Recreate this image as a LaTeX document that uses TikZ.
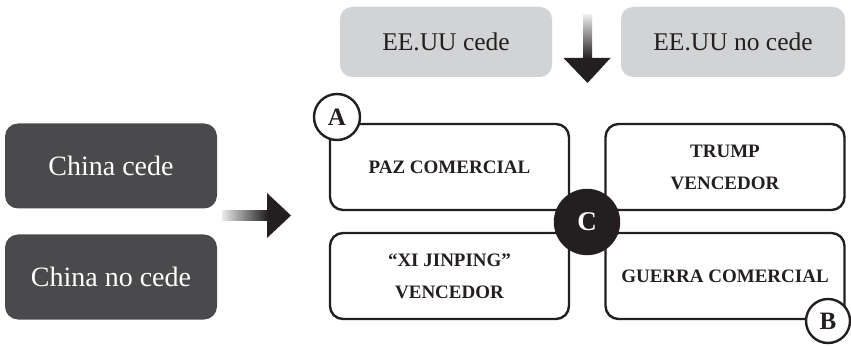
\documentclass[tikz,border=0pt]{standalone}
\usepackage{fontspec}
\setmainfont{Liberation Serif}
\usetikzlibrary{positioning}
\definecolor{usgray}{HTML}{D1D3D4}
\definecolor{cndark}{HTML}{4A4A4C}
\definecolor{inkdark}{HTML}{231F20}
\tikzset{
  usbox/.style={rectangle,rounded corners=12pt,fill=usgray,text=inkdark,
    minimum height=70pt,font=\fontsize{25.5}{28}\selectfont},
  cnbox/.style={rectangle,rounded corners=13pt,fill=cndark,text=white,
    minimum width=212pt,minimum height=85pt,font=\fontsize{28}{30}\selectfont},
  quad/.style={rectangle,draw=inkdark,line width=2.4pt,rounded corners=13pt,fill=white,
    text=inkdark,minimum width=239pt,minimum height=86pt,align=center,
    font=\fontsize{19}{32}\selectfont\bfseries},
  tag/.style={circle,draw=inkdark,line width=2.4pt,fill=white,text=inkdark,
    minimum size=46pt,inner sep=0pt,font=\fontsize{25}{28}\selectfont\bfseries}
}
\begin{document}
\begin{tikzpicture}[x=1pt,y=-1pt]
  \useasboundingbox (0,0) rectangle (851,347);
  % options
  \node[usbox,minimum width=212pt] (eecede) at (446,42) {EE.UU cede};
  \node[usbox,minimum width=224pt] (eenocede) at (733,42) {EE.UU no cede};
  \node[cnbox] (chcede) at (111,166) {China cede};
  \node[cnbox] (chnocede) at (111,277) {China no cede};

  % outcomes
  \node[quad] (paz) at (449.5,167) {PAZ COMERCIAL};
  \node[quad] (trump) at (725,167) {TRUMP\\VENCEDOR};
  \node[quad] (xi) at (449.5,276) {“XI JINPING”\\VENCEDOR};
  \node[quad] (guerra) at (725,276) {GUERRA COMERCIAL};
  \node[tag,fill=inkdark,text=white,minimum size=64pt,font=\fontsize{27}{30}\selectfont\bfseries]
    (c) at (587,222) {C};
  \node[tag] (a) at (337,117) {A};
  \node[tag,minimum size=44pt] (b) at (828,321) {B};

  % arrows
  \coordinate (dnbase) at (587.5,58);
  \coordinate (rtbase) at (267,215.5);
  \shade[top color=black!8,bottom color=inkdark] (583,15) rectangle (592,58.5);
  \fill[inkdark] ([xshift=-24pt]dnbase) -- ([xshift=23pt]dnbase) -- ([yshift=-25pt]dnbase) -- cycle;
  \shade[left color=black!8,right color=inkdark] (222,210.5) rectangle (267.5,220.5);
  \fill[inkdark] ([yshift=-22.5pt]rtbase) -- ([yshift=22.5pt]rtbase) -- ([xshift=24pt]rtbase) -- cycle;
\end{tikzpicture}
\end{document}
